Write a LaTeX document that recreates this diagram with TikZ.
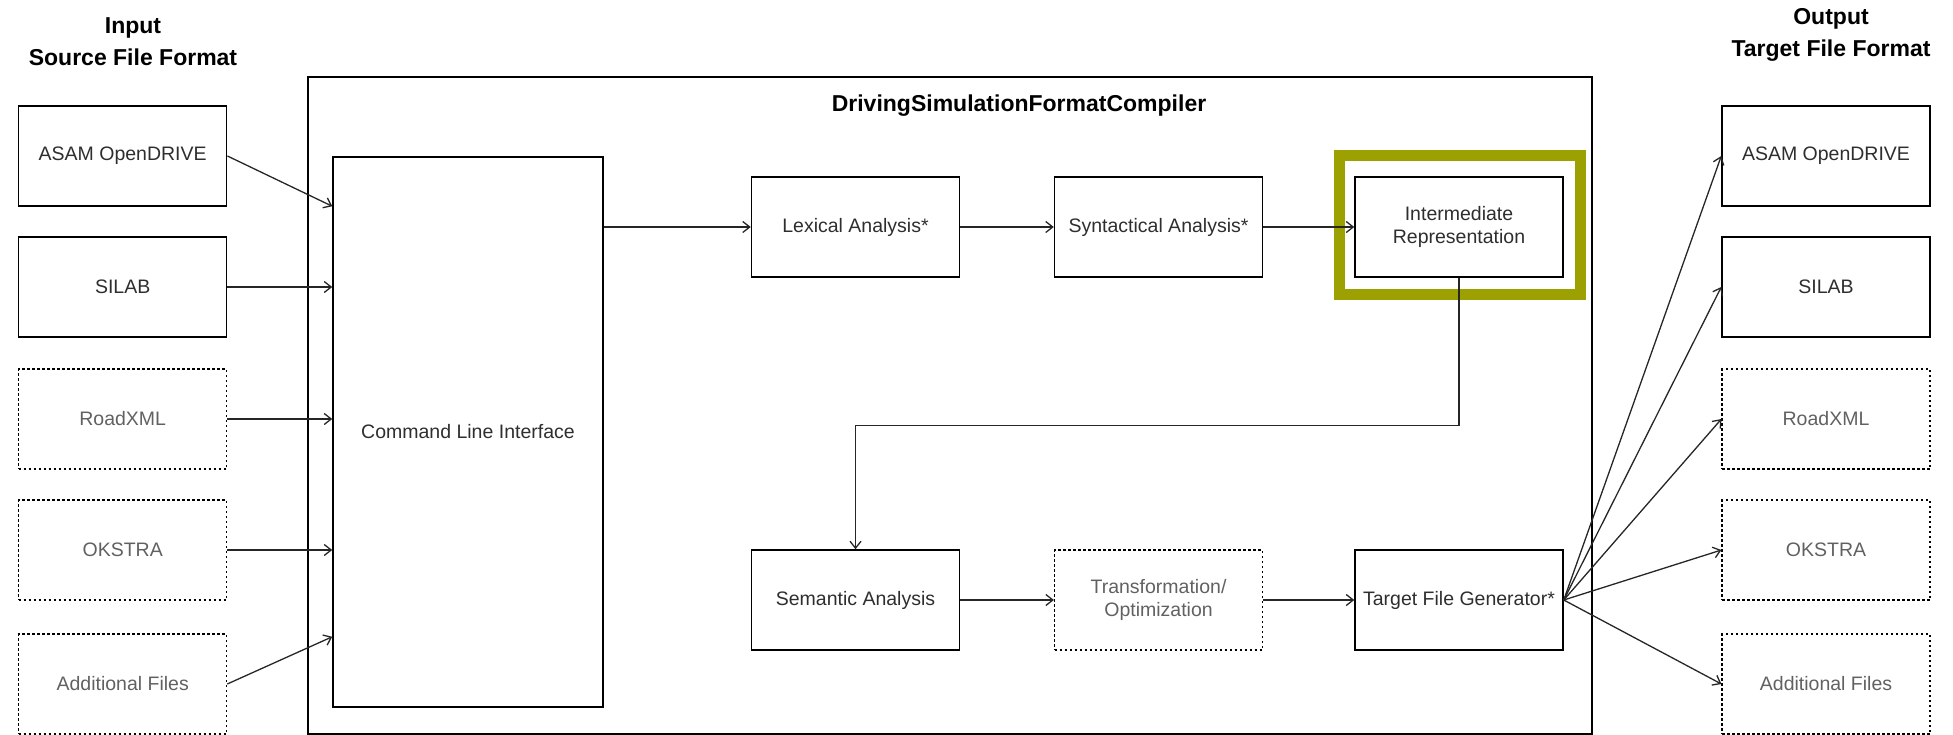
\documentclass[tikz,border=0pt]{standalone}
\usepackage{fontspec}
\setmainfont{Liberation Sans}
\usetikzlibrary{arrows.meta,positioning,calc}
\definecolor{irgreen}{RGB}{156,160,0}
\newcommand{\boxfont}{\fontsize{19.5}{23}\selectfont}
\newcommand{\headfont}{\fontsize{23}{32}\selectfont\bfseries}
\tikzstyle{fmtbox}=[rectangle,draw,line width=1.5pt,minimum width=208pt,minimum height=100pt,inner sep=1pt,align=center,font=\boxfont,text=black!82]
\tikzstyle{optbox}=[fmtbox,line width=1.2pt,dash pattern=on 2.5pt off 2.5pt,text=black!62]
\tikzstyle{flow}=[-{Straight Barb[length=7pt,width=11pt]},line width=1.3pt,black!85]
\newcommand{\fmtnode}[3]{\node[fmtbox] (#1) at (#2) {#3};}
\newcommand{\optnode}[3]{\node[optbox] (#1) at (#2) {#3};}

\begin{document}
\begin{tikzpicture}[x=1pt,y=-1pt]
\useasboundingbox (0,0) rectangle (1953,734);

\node[font=\headfont,align=center] (inhead) at (133,42) {Input\\Source File Format};
\node[font=\headfont,align=center] (outhead) at (1831,35) {Output\\Target File Format};

\draw[line width=1.5pt] (308,77) rectangle (1592,734);
\node[font=\headfont] (dsfc) at (1019,106) {DrivingSimulationFormatCompiler};

\fmtnode{srcasam}{122.7,156}{ASAM OpenDRIVE}
\fmtnode{srcsilab}{122.7,287}{SILAB}
\optnode{srcroad}{122.7,419}{RoadXML}
\optnode{srcok}{122.7,550}{OKSTRA}
\optnode{srcadd}{122.7,684}{Additional Files}

\node[fmtbox,minimum width=270pt,minimum height=550pt] (cli) at (468,432) {Command Line Interface};

\fmtnode{lex}{855.5,227}{Lexical Analysis*}
\fmtnode{syn}{1158.5,227}{Syntactical Analysis*}
\fmtnode{ir}{1459,227}{Intermediate\\Representation}
\draw[irgreen,line width=11pt] (1339,155.5) rectangle (1580,294);

\fmtnode{sem}{855.5,600}{Semantic Analysis}
\optnode{opt}{1158.5,600}{Transformation/\\Optimization}
\fmtnode{gen}{1459,600}{Target File Generator*}

\fmtnode{tgtasam}{1826,156}{ASAM OpenDRIVE}
\fmtnode{tgtsilab}{1826,287}{SILAB}
\optnode{tgtroad}{1826,419}{RoadXML}
\optnode{tgtok}{1826,550}{OKSTRA}
\optnode{tgtadd}{1826,684}{Additional Files}

\coordinate (in1) at ([yshift=-50pt]cli.north west);
\coordinate (in5) at ([yshift=71pt]cli.south west);
\draw[flow] (srcasam.east) -- (in1);
\draw[flow] (srcsilab.east) -- (srcsilab.east -| cli.west);
\draw[flow] (srcroad.east) -- (srcroad.east -| cli.west);
\draw[flow] (srcok.east) -- (srcok.east -| cli.west);
\draw[flow] (srcadd.east) -- (in5);

\draw[flow] (cli.east |- lex.west) -- (lex.west);
\draw[flow] (lex.east) -- (syn.west);
\draw[flow] (syn.east) -- (ir.west);
\draw[flow] (ir.south) -- ++(0,148) -| (sem.north);
\draw[flow] (sem.east) -- (opt.west);
\draw[flow] (opt.east) -- (gen.west);

\newcommand{\fanout}[1]{
\draw[flow] (gen.east) -- (#1.west);
}
\fanout{tgtasam}
\fanout{tgtsilab}
\fanout{tgtroad}
\fanout{tgtok}
\fanout{tgtadd}
\end{tikzpicture}
\end{document}
